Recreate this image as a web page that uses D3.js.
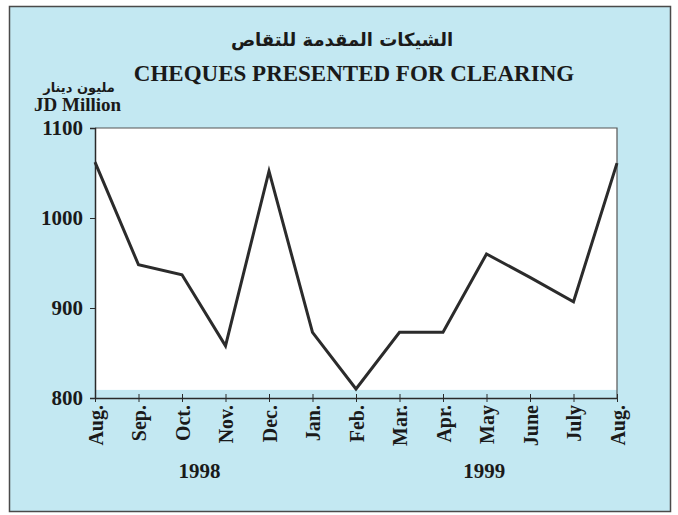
<!DOCTYPE html>
<html>
<head>
<meta charset="utf-8">
<script src="https://cdn.jsdelivr.net/npm/d3@7"></script>
<style>
  body { margin: 0; background: #fff; }
  .tick text { font-family: "Liberation Serif", serif; font-weight: bold; fill: #1a1a1a; }
  .domain, .tick line { stroke: #2a2a2a; }
</style>
</head>
<body>
<div id="chart"></div>
<script>
var months = ["Aug.", "Sep.", "Oct.", "Nov.", "Dec.", "Jan.", "Feb.", "Mar.", "Apr.", "May", "June", "July", "Aug."];
var cheques = [1062, 948, 937, 858, 1052, 873, 810, 873, 873, 960, 934, 907, 1061];
var yTicks = [800, 900, 1000, 1100];
var years = ["1998", "1999"];
var yearAt = [2.4, 8.95];

var svgWidth = 678;
var svgHeight = 515;

var margin = { top: 128, right: 61, bottom: 117, left: 95 };
var width = svgWidth - margin.left - margin.right;
var height = svgHeight - margin.top - margin.bottom;

var svg = d3
  .select("#chart")
  .append("svg")
  .attr("width", svgWidth)
  .attr("height", svgHeight);

// outer panel
svg
  .append("rect")
  .attr("x", 9.5)
  .attr("y", 6.5)
  .attr("width", 661)
  .attr("height", 505)
  .attr("fill", "#c3e8f2")
  .attr("stroke", "#4a4a4a")
  .attr("stroke-width", 1.5);

svg
  .append("text")
  .attr("x", 342)
  .attr("y", 46)
  .attr("text-anchor", "middle")
  .attr("font-family", "DejaVu Sans, sans-serif")
  .attr("font-weight", "bold")
  .attr("font-size", "18px")
  .attr("fill", "#1a1a1a")
  .text("الشيكات المقدمة للتقاص");

svg
  .append("text")
  .attr("x", 354)
  .attr("y", 81)
  .attr("text-anchor", "middle")
  .attr("font-family", "Liberation Serif, serif")
  .attr("font-weight", "bold")
  .attr("font-size", "23px")
  .attr("fill", "#1a1a1a")
  .text("CHEQUES PRESENTED FOR CLEARING");

svg
  .append("text")
  .attr("x", 79)
  .attr("y", 92)
  .attr("text-anchor", "middle")
  .attr("font-family", "DejaVu Sans, sans-serif")
  .attr("font-weight", "bold")
  .attr("font-size", "13px")
  .attr("fill", "#1a1a1a")
  .text("مليون دينار");

svg
  .append("text")
  .attr("x", 34)
  .attr("y", 111)
  .attr("font-family", "Liberation Serif, serif")
  .attr("font-weight", "bold")
  .attr("font-size", "19px")
  .attr("fill", "#1a1a1a")
  .text("JD Million");

var chartGroup = svg
  .append("g")
  .attr("transform", `translate(${margin.left}, ${margin.top})`);

var xScale = d3
  .scalePoint()
  .domain(d3.range(months.length))
  .range([0, width]);

var yScale = d3.scaleLinear().domain([800, 1100]).range([height, 0]);

// white plot area, with a thin band of blue left at the bottom
chartGroup
  .append("rect")
  .attr("x", 0)
  .attr("y", yScale(1100))
  .attr("width", width)
  .attr("height", yScale(809) - yScale(1100))
  .attr("fill", "#ffffff");

chartGroup
  .append("path")
  .attr("d", `M0,${yScale(1100)}H${width}V${height}`)
  .attr("fill", "none")
  .attr("stroke", "#555")
  .attr("stroke-width", 1.2);

var leftAxis = d3
  .axisLeft(yScale)
  .tickValues(yTicks)
  .tickSize(5)
  .tickPadding(7)
  .tickFormat(d3.format("d"));

var yAxis = chartGroup.append("g").call(leftAxis);
yAxis.select(".domain").attr("stroke-width", 1.5);
yAxis.selectAll(".tick text").attr("font-size", "21px");

var bottomAxis = d3
  .axisBottom(xScale)
  .tickSizeInner(4)
  .tickSizeOuter(0)
  .tickPadding(6)
  .tickFormat((i) => months[i]);

var xAxis = chartGroup
  .append("g")
  .attr("transform", `translate(0, ${height})`)
  .call(bottomAxis);
xAxis.select(".domain").attr("stroke-width", 1.5);
xAxis
  .selectAll(".tick text")
  .attr("font-size", "20px")
  .attr("transform", "rotate(-90)")
  .attr("x", -7)
  .attr("y", 0)
  .attr("dy", "0.35em")
  .style("text-anchor", "end");

chartGroup
  .append("g")
  .attr("transform", `translate(0, ${height})`)
  .call(d3.axisTop(xScale).tickSize(4).tickFormat(""))
  .select(".domain")
  .remove();

var line = d3
  .line()
  .x((d, i) => xScale(i))
  .y((d) => yScale(d));

chartGroup
  .append("path")
  .datum(cheques)
  .attr("d", line)
  .attr("fill", "none")
  .attr("stroke", "#2b2b2b")
  .attr("stroke-width", 3)
  .attr("stroke-linejoin", "miter");

chartGroup
  .selectAll(".year")
  .data(years)
  .enter()
  .append("text")
  .attr("class", "year")
  .attr("x", (d, i) => xScale(0) + yearAt[i] * xScale.step())
  .attr("y", height + 80)
  .attr("text-anchor", "middle")
  .attr("font-family", "Liberation Serif, serif")
  .attr("font-weight", "bold")
  .attr("font-size", "21px")
  .attr("fill", "#1a1a1a")
  .text((d) => d);
</script>
</body>
</html>
